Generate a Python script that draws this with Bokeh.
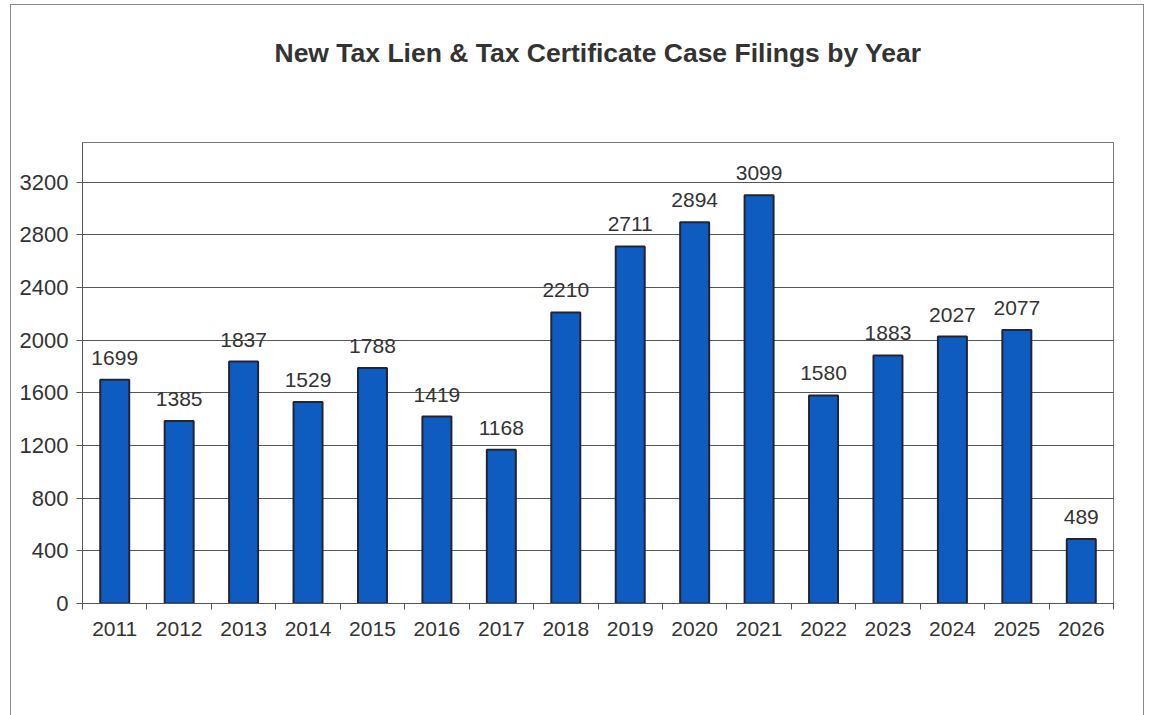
from bokeh.plotting import figure
from bokeh.models import ColumnDataSource, FixedTicker, Range1d, LabelSet, Title
from bokeh.core.properties import value
from bokeh.embed import file_html
from bokeh.resources import INLINE

years = ["2011", "2012", "2013", "2014", "2015", "2016", "2017", "2018",
         "2019", "2020", "2021", "2022", "2023", "2024", "2025", "2026"]
filings = [1699, 1385, 1837, 1529, 1788, 1419, 1168, 2210,
           2711, 2894, 3099, 1580, 1883, 2027, 2077, 489]
y_ticks = [0, 400, 800, 1200, 1600, 2000, 2400, 2800, 3200]
title_text = "New Tax Lien & Tax Certificate Case Filings by Year"

n = len(years)
centers = [i + 0.5 for i in range(n)]
edges = list(range(n + 1))
y_max = 3500

src = ColumnDataSource(dict(x=centers, top=filings,
                            label=[str(v) for v in filings]))

FONT = "Liberation Sans"
TXT = "#333333"

p = figure(width=1134, height=711, x_range=Range1d(0, n), y_range=Range1d(0, y_max),
           output_backend="svg", toolbar_location=None, title=title_text,
           min_border_left=71, min_border_right=32, min_border_top=136,
           min_border_bottom=113, background_fill_color="white",
           border_fill_color="white",
           styles={"border": "1px solid #8a8a8a", "border-bottom": "none",
                   "box-sizing": "border-box",
                   "margin-left": "10px", "margin-top": "4px"})

p.title.text_font = FONT
p.title.text_font_size = "26.5px"
p.title.text_font_style = "bold"
p.title.text_color = TXT
p.title.align = "center"
p.title.standoff = 60

# blank spacer between the title and the plot area
p.add_layout(Title(text=" ", text_font_size="10px", standoff=32), "above")

p.vbar(x="x", top="top", bottom=0, width=0.45, source=src,
       fill_color="#0f5cc0", line_color="#222433", line_width=2)

labels = LabelSet(x="x", y="top", text="label", source=src, y_offset=15,
                  text_align="center", text_baseline="bottom",
                  text_font=value(FONT), text_font_size=value("21px"),
                  text_color=TXT)
p.add_layout(labels)

p.outline_line_color = "#777777"
p.outline_line_width = 1

p.xgrid.visible = False
p.ygrid.ticker = FixedTicker(ticks=y_ticks)
p.ygrid.grid_line_color = "#555555"
p.ygrid.grid_line_width = 1

ya = p.yaxis[0]
ya.ticker = FixedTicker(ticks=y_ticks)
ya.major_tick_in = 0
ya.major_tick_out = 6
ya.minor_tick_out = 0
ya.minor_tick_in = 0
ya.axis_line_color = "#555555"
ya.major_tick_line_color = "#555555"
ya.major_label_text_font = FONT
ya.major_label_text_font_size = "22px"
ya.major_label_text_color = TXT
ya.major_label_standoff = 8

xa = p.xaxis[0]
xa.ticker = FixedTicker(ticks=centers, minor_ticks=edges)
xa.major_label_overrides = {c: y for c, y in zip(centers, years)}
xa.major_tick_in = 0
xa.major_tick_out = 0
xa.minor_tick_in = 0
xa.minor_tick_out = 6
xa.minor_tick_line_color = "#555555"
xa.axis_line_color = "#555555"
xa.major_label_text_font = FONT
xa.major_label_text_font_size = "21px"
xa.major_label_text_color = TXT
xa.major_label_standoff = 12

open("out.html", "w").write(file_html(p, INLINE))
